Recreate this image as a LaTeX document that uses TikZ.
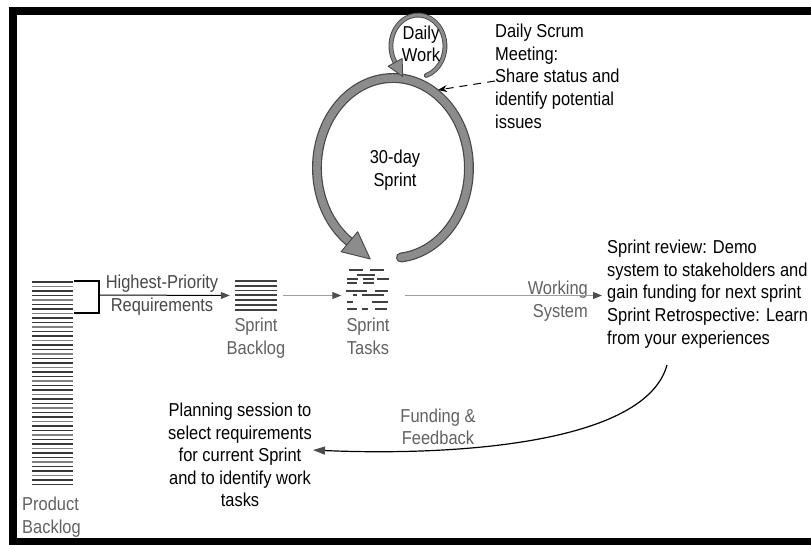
\documentclass[tikz,border=0pt]{standalone}
\usepackage{fontspec}
\setmainfont[FakeStretch=0.88]{Liberation Sans}
\usetikzlibrary{positioning, arrows.meta, calc}

\begin{document}
\begin{tikzpicture}[x=1pt, y=-1pt,
    lbl/.style={font=\fontsize{18.7}{22.6}\selectfont, align=center, inner sep=0pt},
    graylbl/.style={lbl, text=black!62},
    ring/.style={draw=black!72, line width=1.2pt, double=black!45, double distance=7.5pt, line cap=round},
    loopring/.style={draw=black!72, line width=0.9pt, double=black!45, double distance=3pt, line cap=round},
    head/.style={draw=black!72, line width=0.9pt, fill=black!45, line join=round},
    bar/.style={line width=1.8pt},
    taskbar/.style={line width=1.6pt, black!75},
    icon/.style={inner sep=0pt, minimum width=#1},
    flow/.style={black!38, line width=1pt, -{Triangle[length=9pt,width=7pt,color=black!70]}}
]
    \useasboundingbox (0,0) rectangle (811,545);
    \draw[line width=8pt] (13,545) -- (13,11) -- (811,11);
    \draw[line width=7pt] (9,541.5) -- (811,541.5);

    \foreach \i in {0,...,45} {
        \pgfmathsetmacro\shade{ifthenelse(mod(\i,3)==1,50,78)}
        \draw[bar, black!\shade] (32,{282+4.5*\i}) -- (73,{282+4.5*\i});
    }
    \node[graylbl, align=left, anchor=north west] (pblbl) at (22,497) {Product\\Backlog};
    \draw[line width=1.3pt] (74,281) -- (99,281) -- (99,313) -- (74,313);
    \coordinate (brk) at (99,295);

    \node[icon=42pt, minimum height=30pt] (sb) at (256,295.5) {};
    \foreach \i in {0,...,6}
        \draw[bar, black!75] (235,{281+4.8*\i}) -- (277,{281+4.8*\i});
    \node[graylbl, below=7.5pt of sb] (sblbl) {Sprint\\Backlog};

    \node[icon=47pt, minimum height=44pt] (st) at (368,288.5) {};
    \foreach \y/\a/\b in {270/349/363, 270/370/384, 275/357/375, 279/347/358, 279/363/374,
            279/377/389, 283/347/357, 283/363/374, 291/346/367, 291/375/388, 295/353/357,
            295/362/384, 302/347/353, 302/372/388, 309/347/357, 309/362/368, 309/375/387}
        \draw[taskbar] (\a,\y) -- (\b,\y);
    \node[graylbl, below=7.5pt of st] (stlbl) {Sprint\\Tasks};

    \node[lbl, text=black!72] (req) at (162,295) {Highest-Priority\\Requirements};
    \node[lbl, align=left, anchor=north west] (review) at (607,240)
        {Sprint review: Demo\\system to stakeholders and\\gain funding for next sprint\\Sprint Retrospective: Learn\\from your experiences};
    \node[graylbl, align=right, anchor=east] (ws) at (588,301) {Working\\System};
    \node[lbl] (plan) at (240,455)
        {Planning session to\\select requirements\\for current Sprint\\and to identify work\\tasks};
    \node[graylbl] (fund) at (438,427) {Funding \&\\Feedback};
    \node[lbl, align=left, anchor=north west] (scrum) at (495,24)
        {Daily Scrum\\Meeting:\\Share status and\\identify potential\\issues};

    \draw[loopring] (426.3,75.5) arc[start angle=72, end angle=-212, x radius=27, y radius=31];
    \draw[ring] (400.9,257.5) arc[start angle=84, end angle=-235, x radius=76, y radius=90];
    \filldraw[head] (341.1,251.7) -- (370.2,259) -- (357.7,231.7) -- cycle;
    \filldraw[head] (388.1,66.2) -- (402.7,76.5) -- (402.1,58.6) -- cycle;
    \node[lbl] (daily) at (421,44) {Daily\\Work};
    \node[lbl] (sprint) at (395,170) {30-day\\Sprint};
    \coordinate (ringtop) at (438,90);
    \coordinate (fb) at (667,365);

    \draw[line width=1pt, -{Triangle[length=9pt,width=7pt,color=black!70]}, shorten >=5pt] (brk) -- (sb.west);
    \draw[flow, shorten <=6pt, shorten >=3pt] (sb.east) -- (st.west |- sb.east);
    \draw[flow, shorten <=13pt, shorten >=5pt] (st.east |- sb.east) -- (review.west |- sb.east);
    \draw[dashed, dash pattern=on 8pt off 6pt, line width=1pt, -{Stealth[length=9pt,width=7pt]}] (scrum.west |- 0,81) -- (ringtop);
    \draw[line width=1.2pt, -{Triangle[length=12pt,width=8pt,color=black!70]}, shorten >=1pt]
        (fb) .. controls (645,445) and (450,456) .. ([yshift=5pt]plan.east);
\end{tikzpicture}
\end{document}
